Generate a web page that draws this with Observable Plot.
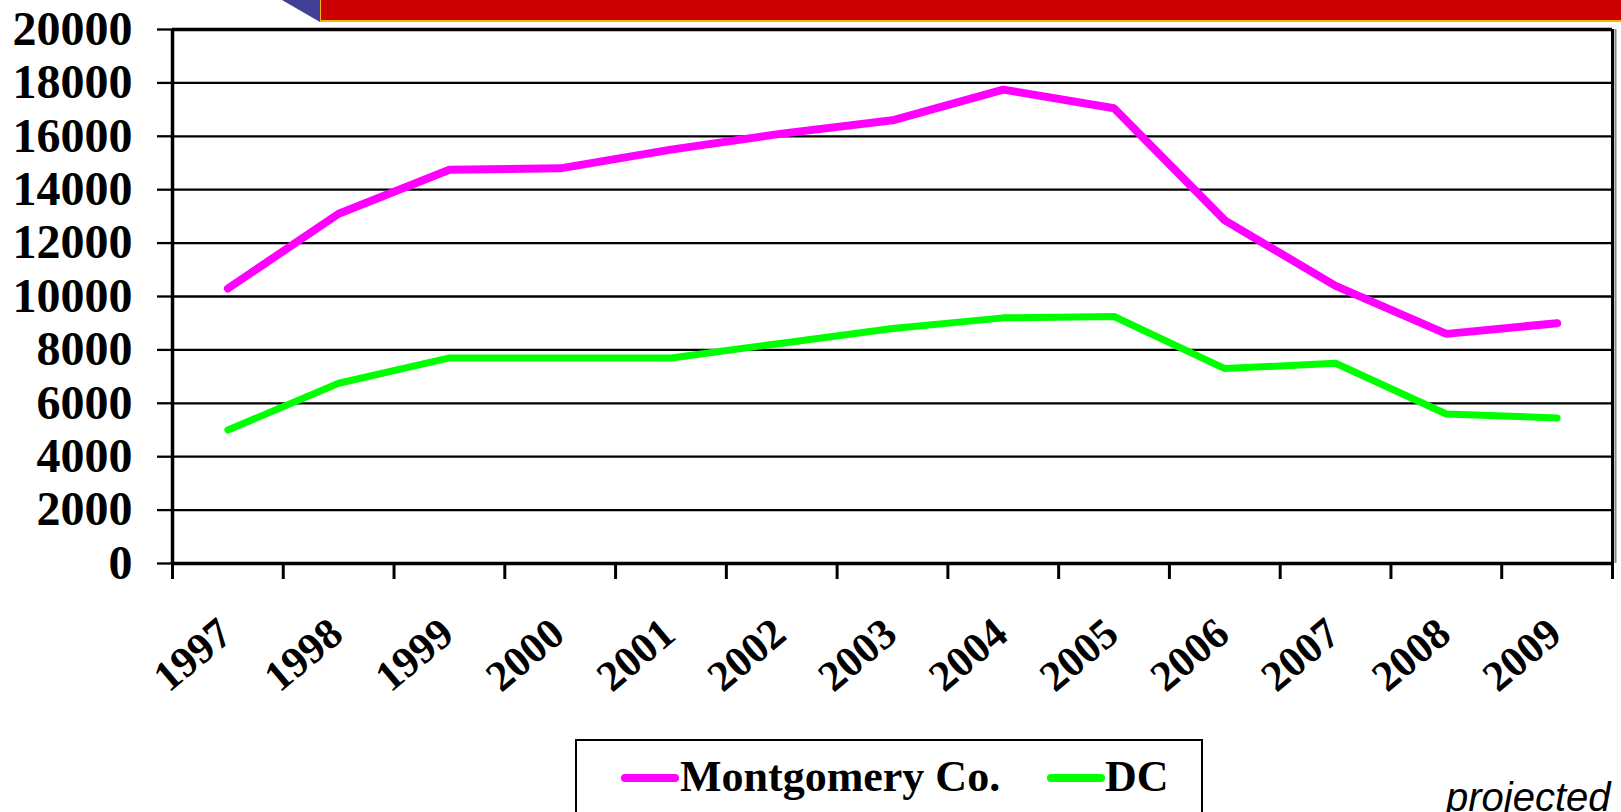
<!DOCTYPE html>
<html>
<head>
<meta charset="utf-8">
<script src="https://cdn.jsdelivr.net/npm/d3@7"></script>
<script src="https://cdn.jsdelivr.net/npm/@observablehq/plot@0.6"></script>
<style>
  html, body { margin: 0; padding: 0; background: #fff; overflow: hidden; }
  #wrap { position: relative; width: 1621px; height: 812px; overflow: hidden; }
  #chart { position: absolute; left: 0; top: 0; }
  #redbar { position: absolute; left: 320px; top: 0; width: 1301px; height: 20px; background: #CC0000;
            border-bottom: 2px solid #F5B800; border-left: 1px solid #F5B800; }
  #tri { position: absolute; left: 0; top: 0; }
  #legend { position: absolute; left: 575px; top: 739px; width: 628px; height: 120px;
            border: 2.5px solid #000; box-sizing: border-box; background: #fff; }
  .sw { position: absolute; height: 8px; border-radius: 4px; }
  .lt { position: absolute; font-family: "Liberation Serif", "Times New Roman", serif; font-weight: bold;
        font-size: 44px; line-height: 44px; color: #000; white-space: nowrap; }
  #proj { position: absolute; left: 1446px; top: 777px; font-family: "Liberation Sans", Arial, sans-serif;
          font-style: italic; font-size: 40px; line-height: 40px; color: #000; white-space: nowrap; }
</style>
</head>
<body>
<div id="wrap">
  <div id="chart"></div>
  <svg id="tri" width="330" height="24"><polygon points="282,0 320,0 320,22" fill="#3F3F98"></polygon></svg>
  <div id="redbar"></div>
  <div id="legend"></div>
  <div id="proj">projected</div>
</div>
<script>
// ---- data ----
const years = [1997, 1998, 1999, 2000, 2001, 2002, 2003, 2004, 2005, 2006, 2007, 2008, 2009];
const montgomery = [10300, 13100, 14750, 14800, 15500, 16100, 16600, 17750, 17050, 12850, 10400, 8600, 9000];
const dc = [5000, 6750, 7700, 7700, 7700, 8250, 8800, 9200, 9250, 7300, 7500, 5600, 5450];
const seriesNames = ["Montgomery Co.", "DC"];
const seriesColors = ["#FF00FF", "#00FF00"];
const yTicks = [0, 2000, 4000, 6000, 8000, 10000, 12000, 14000, 16000, 18000, 20000];

// ---- build table ----
const rows = [];
years.forEach((yr, i) => {
  rows.push({year: yr, value: montgomery[i], series: seriesNames[0]});
  rows.push({year: yr, value: dc[i], series: seriesNames[1]});
});
const edges = [...years.map(y => y - 0.5), years[years.length - 1] + 0.5];
const serif = "Liberation Serif, Times New Roman, serif";

const chart = Plot.plot({
  width: 1621,
  height: 739,
  marginLeft: 172,
  marginRight: 9,
  marginTop: 29,
  marginBottom: 176,
  style: {color: "#000", background: "transparent"},
  x: {domain: [edges[0], edges[edges.length - 1]], axis: null},
  y: {domain: [0, 20000], axis: null},
  color: {domain: seriesNames, range: seriesColors},
  marks: [
    Plot.gridY(yTicks, {stroke: "#000", strokeOpacity: 1, strokeWidth: 2.3}),
    Plot.axisY(yTicks, {
      tickSize: 15, tickPadding: 25, strokeWidth: 2.3, stroke: "#000",
      fontSize: 48, fontWeight: "bold", fontFamily: serif, fill: "#000",
      tickFormat: d => String(d), label: null
    }),
    Plot.ruleY([20000], {stroke: "#000", strokeWidth: 3.3}),
    Plot.ruleY([0], {stroke: "#000", strokeWidth: 3.5}),
    Plot.ruleX([edges[edges.length - 1]], {y1: 0, y2: 20000, stroke: "#888", strokeWidth: 2, dx: 3}),
    Plot.ruleX([edges[edges.length - 1]], {y1: 0, y2: 20000, stroke: "#000", strokeWidth: 3}),
    Plot.ruleX([edges[0]], {y1: 0, y2: 20000, stroke: "#000", strokeWidth: 3.5}),
    Plot.axisX(edges, {tickSize: 16, strokeWidth: 3, stroke: "#000", tickFormat: () => "", label: null}),
    Plot.axisX(years, {
      tickSize: 0, tickPadding: 64, rotate: -40, textAnchor: "end", lineAnchor: "middle",
      fontSize: 43, fontWeight: "bold", fontFamily: serif, fill: "#000", dx: -2,
      tickFormat: d => String(d), label: null
    }),
    Plot.line(rows, {x: "year", y: "value", z: "series", stroke: "series",
      strokeWidth: d => d.series === seriesNames[0] ? 8 : 7, strokeLinejoin: "miter"}),
  ]
});
document.getElementById("chart").appendChild(chart);

// ---- legend ----
const leg = document.getElementById("legend");
const legendItems = [
  {name: seriesNames[0], color: seriesColors[0], swLeft: 44, txtLeft: 103},
  {name: seriesNames[1], color: seriesColors[1], swLeft: 470, txtLeft: 528}
];
legendItems.forEach(it => {
  const sw = document.createElement("div");
  sw.className = "sw";
  sw.style.left = it.swLeft + "px";
  sw.style.width = "58px";
  sw.style.top = "33px";
  sw.style.background = it.color;
  leg.appendChild(sw);
  const t = document.createElement("div");
  t.className = "lt";
  t.style.left = it.txtLeft + "px";
  t.style.top = "14px";
  t.textContent = it.name;
  leg.appendChild(t);
});
</script>
</body>
</html>
